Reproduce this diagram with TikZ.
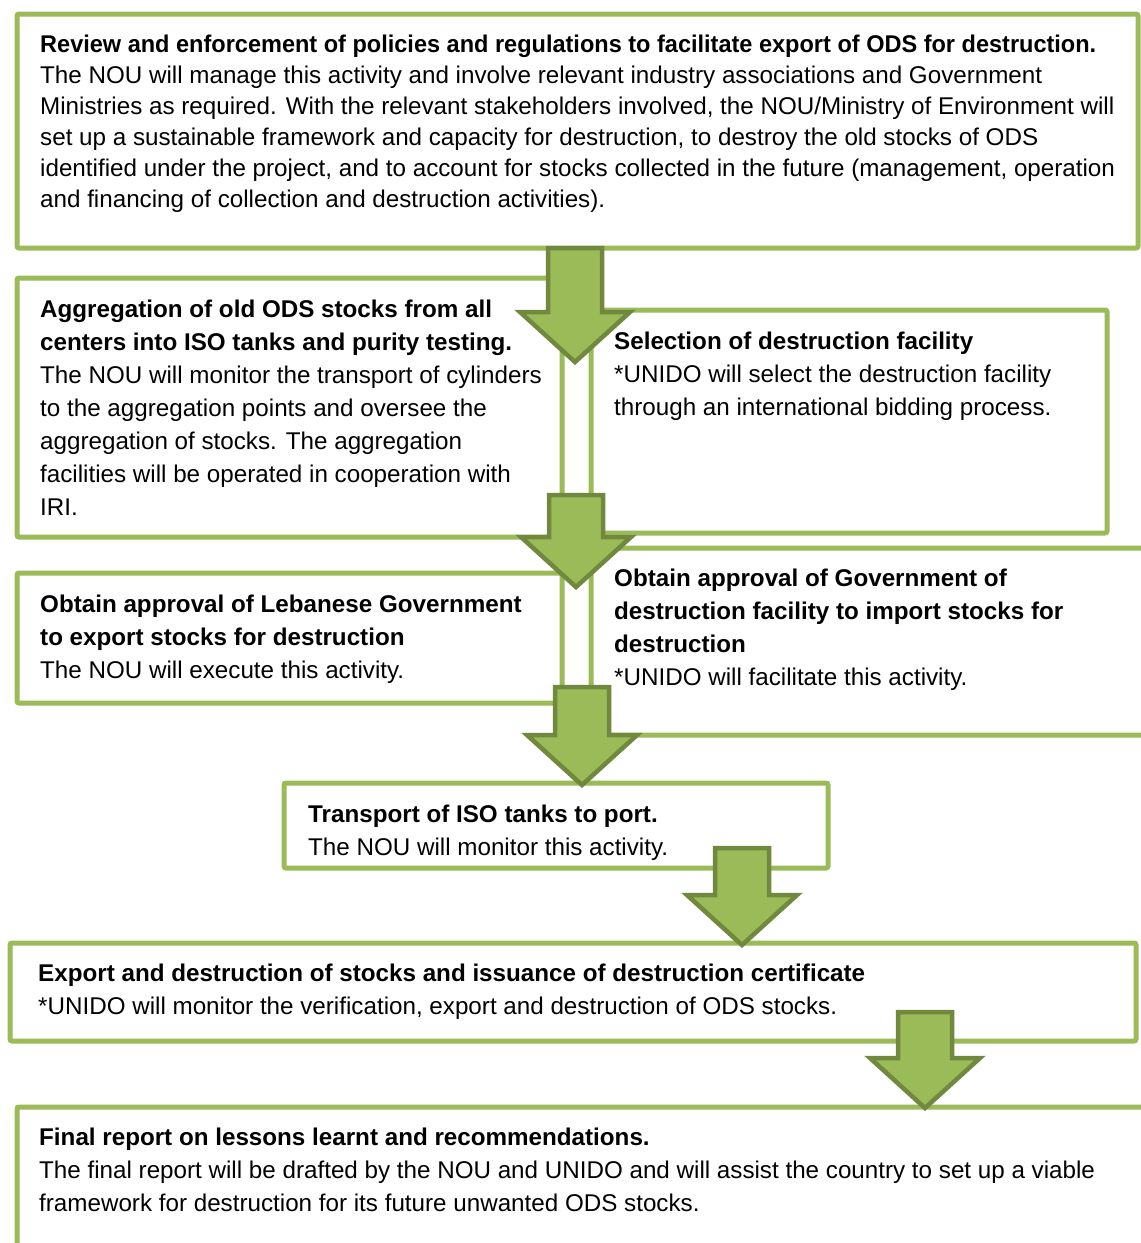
\documentclass[tikz,border=0pt]{standalone}
\usepackage{fontspec}
\setmainfont{Liberation Sans}
\usetikzlibrary{calc}
\definecolor{boxgreen}{HTML}{9BBB59}
\definecolor{arrowedge}{HTML}{71893F}

\tikzset{
  stepbox/.style={draw=boxgreen, line width=5pt, fill=white, rectangle, rounded corners=2pt,
    inner sep=0pt, outer sep=0pt, anchor=north west},
  steptext/.style={anchor=north west, inner sep=0pt, align=left,
    font=\fontsize{24.2}{33}\selectfont},
  blockarrow/.style={fill=boxgreen, draw=arrowedge, line width=4.5pt, line join=miter},
}
% block arrow from a top point down to a tip
\newcommand{\stagearrow}[2]{%
  \draw[blockarrow] let \p1=(#1), \p2=(#2) in
    (\x1-27pt,\y1) -- (\x1+27pt,\y1) -- (\x1+27pt,\y2+50pt) -- (\x1+55pt,\y2+50pt)
    -- (\x1,\y2) -- (\x1-55pt,\y2+50pt) -- (\x1-27pt,\y2+50pt) -- cycle;}
\newcommand{\firstline}{\rule{0pt}{24pt}}

\begin{document}
\begin{tikzpicture}[x=1pt,y=-1pt]
  \useasboundingbox (0,0) rectangle (1141,1243);
  \clip (0,0) rectangle (1141,1243);
  %boxes
  \node[stepbox, minimum width=1121pt, minimum height=234pt] (review) at (17,14) {};
  \node[stepbox, minimum width=545pt, minimum height=259pt] (aggregation) at (17,278) {};
  \node[stepbox, minimum width=516pt, minimum height=223pt] (selection) at (591,310) {};
  \node[stepbox, minimum width=545pt, minimum height=130pt] (approvalleb) at (17,573) {};
  \node[stepbox, minimum width=569pt, minimum height=187pt] (approvalhost) at (591,548) {};
  \node[stepbox, minimum width=544pt, minimum height=85pt] (transport) at (284,783) {};
  \node[stepbox, minimum width=1126pt, minimum height=98pt] (export) at (10,943) {};
  \node[stepbox, minimum width=1143pt, minimum height=163pt] (report) at (17,1107) {};
  %texts
  \node[steptext, font=\fontsize{24.2}{31}\selectfont] (review-txt) at ([shift={(23,14)}]review.north west) {\firstline
    \scalebox{0.972}[1]{\textbf{Review and enforcement of policies and regulations to facilitate export of ODS for destruction.}}\\
    The NOU will manage this activity and involve relevant industry associations and Government\\
    Ministries as required. With the relevant stakeholders involved, the NOU/Ministry of Environment will\\
    set up a sustainable framework and capacity for destruction, to destroy the old stocks of ODS\\
    identified under the project, and to account for stocks collected in the future (management, operation\\
    and financing of collection and destruction activities).};
  \node[steptext] (aggregation-txt) at ([shift={(23,15)}]aggregation.north west) {\firstline
    \textbf{Aggregation of old ODS stocks from all}\\
    \textbf{centers into ISO tanks and purity testing.}\\
    The NOU will monitor the transport of cylinders\\
    to the aggregation points and oversee the\\
    aggregation of stocks. The aggregation\\
    facilities will be operated in cooperation with\\
    IRI.};
  \node[steptext] (selection-txt) at ([shift={(23,15)}]selection.north west) {\firstline
    \textbf{Selection of destruction facility}\\
    *UNIDO will select the destruction facility\\
    through an international bidding process.};
  \node[steptext] (approvalleb-txt) at ([shift={(23,15)}]approvalleb.north west) {\firstline
    \textbf{Obtain approval of Lebanese Government}\\
    \textbf{to export stocks for destruction}\\
    The NOU will execute this activity.};
  \node[steptext] (approvalhost-txt) at ([shift={(23,14)}]approvalhost.north west) {\firstline
    \textbf{Obtain approval of Government of}\\
    \textbf{destruction facility to import stocks for}\\
    \textbf{destruction}\\
    *UNIDO will facilitate this activity.};
  \node[steptext] (transport-txt) at ([shift={(24,15)}]transport.north west) {\firstline
    \textbf{Transport of ISO tanks to port.}\\
    The NOU will monitor this activity.};
  \node[steptext] (export-txt) at ([shift={(28,14)}]export.north west) {\firstline
    \textbf{Export and destruction of stocks and issuance of destruction certificate}\\
    *UNIDO will monitor the verification, export and destruction of ODS stocks.};
  \node[steptext] (report-txt) at ([shift={(22,14)}]report.north west) {\firstline
    \textbf{Final report on lessons learnt and recommendations.}\\
    The final report will be drafted by the NOU and UNIDO and will assist the country to set up a viable\\
    framework for destruction for its future unwanted ODS stocks.};
  %arrows
  \coordinate (a1-top) at (575,248);  \coordinate (a1-tip) at (575,362);
  \coordinate (a2-top) at (576,495);  \coordinate (a2-tip) at (576,587);
  \coordinate (a3-top) at (582,687);  \coordinate (a3-tip) at (582,785);
  \coordinate (a4-top) at (742,848);  \coordinate (a4-tip) at (742,945);
  \coordinate (a5-top) at (925,1012); \coordinate (a5-tip) at (925,1108);
  \stagearrow{a1-top}{a1-tip}
  \stagearrow{a2-top}{a2-tip}
  \stagearrow{a3-top}{a3-tip}
  \stagearrow{a4-top}{a4-tip}
  \stagearrow{a5-top}{a5-tip}
\end{tikzpicture}
\end{document}
